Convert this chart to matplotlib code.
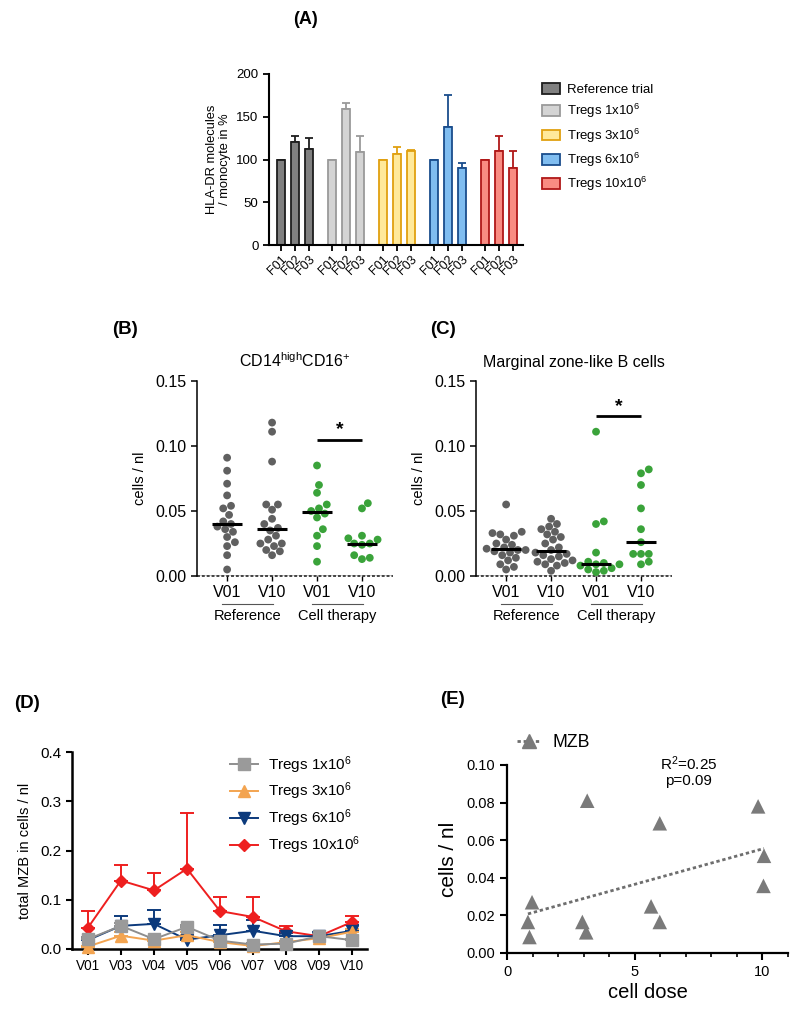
import numpy as np
import matplotlib
matplotlib.use("Agg")
import matplotlib.pyplot as plt
from matplotlib.patches import Patch
from matplotlib.lines import Line2D
import matplotlib.transforms as mtrans

plt.rcParams['font.family'] = ['Liberation Sans', 'DejaVu Sans']
plt.rcParams['mathtext.fontset'] = 'custom'
plt.rcParams['mathtext.rm'] = 'Liberation Sans'
plt.rcParams['mathtext.default'] = 'regular'

# ---------------- data ----------------
# (A) HLA-DR molecules / monocyte in %
a_groups = ["Reference trial", r"Tregs 1x10$^{6}$", r"Tregs 3x10$^{6}$",
            r"Tregs 6x10$^{6}$", r"Tregs 10x10$^{6}$"]
a_ticks = ["F01", "F02", "F03"]
a_means = [[100, 121, 112], [100, 159, 109], [100, 107, 110], [100, 138, 90], [100, 110, 90]]
a_err = [[0, 7, 13], [0, 7, 19], [0, 8, 1], [0, 37, 6], [0, 18, 20]]
a_face = ["#808080", "#d4d4d4", "#ffe99a", "#80bdf0", "#f98c82"]
a_edge = ["#1e1e1e", "#9a9a9a", "#e0a010", "#1a4d8c", "#b01818"]

# (B) CD14high CD16+ cells / nl
b_cats = ["V01", "V10", "V01", "V10"]
b_ref_v01 = [0.091, 0.081, 0.071, 0.062, 0.054, 0.052, 0.047, 0.042, 0.040, 0.038,
             0.036, 0.034, 0.030, 0.026, 0.023, 0.016, 0.005]
b_ref_v10 = [0.118, 0.111, 0.088, 0.055, 0.055, 0.051, 0.044, 0.040, 0.037, 0.035,
             0.031, 0.028, 0.025, 0.025, 0.023, 0.020, 0.019, 0.016]
b_ct_v01 = [0.085, 0.070, 0.064, 0.055, 0.052, 0.050, 0.048, 0.045, 0.036, 0.031, 0.023, 0.011]
b_ct_v10 = [0.056, 0.052, 0.031, 0.029, 0.028, 0.025, 0.025, 0.024, 0.016, 0.014, 0.013]

# (C) Marginal zone-like B cells / nl
c_ref_v01 = [0.055, 0.034, 0.033, 0.032, 0.031, 0.028, 0.025, 0.024, 0.022, 0.021,
             0.020, 0.020, 0.019, 0.018, 0.016, 0.014, 0.012, 0.009, 0.007, 0.005]
c_ref_v10 = [0.044, 0.040, 0.038, 0.036, 0.034, 0.032, 0.030, 0.028, 0.025, 0.022,
             0.020, 0.018, 0.017, 0.016, 0.015, 0.013, 0.012, 0.011, 0.010, 0.009, 0.008, 0.004]
c_ct_v01 = [0.111, 0.042, 0.040, 0.018, 0.011, 0.010, 0.009, 0.009, 0.008, 0.006, 0.005, 0.004, 0.003]
c_ct_v10 = [0.082, 0.079, 0.070, 0.052, 0.036, 0.026, 0.017, 0.017, 0.017, 0.011, 0.009]
groups_bc = ["Reference", "Cell therapy"]

# (D) total MZB in cells / nl over visits
d_visits = ["V01", "V03", "V04", "V05", "V06", "V07", "V08", "V09", "V10"]
d_t1 = [0.020, 0.047, 0.020, 0.045, 0.017, 0.009, 0.011, 0.026, 0.018]
d_t1_err = [0.004, 0.006, 0.003, 0.004, 0.004, 0.003, 0.003, 0.005, 0.003]
d_t3 = [0.005, 0.027, 0.017, 0.028, 0.014, 0.006, 0.014, 0.022, 0.035]
d_t3_err = [0.002, 0.008, 0.003, 0.006, 0.003, 0.002, 0.003, 0.005, 0.006]
d_t6 = [0.018, 0.047, 0.051, 0.019, 0.028, 0.037, 0.026, 0.026, 0.037]
d_t6_err = [0.006, 0.021, 0.028, 0.004, 0.020, 0.021, 0.007, 0.009, 0.011]
d_t10 = [0.043, 0.139, 0.119, 0.163, 0.077, 0.065, 0.036, 0.026, 0.055]
d_t10_err = [0.034, 0.031, 0.035, 0.114, 0.029, 0.040, 0.011, 0.004, 0.011]
d_labels = [r"Tregs 1x10$^{6}$", r"Tregs 3x10$^{6}$", r"Tregs 6x10$^{6}$", r"Tregs 10x10$^{6}$"]

# (E) MZB vs cell dose
e_dose = [0.82, 0.88, 0.98, 2.95, 3.10, 3.14, 5.64, 5.98, 5.98, 9.83, 10.06, 10.04]
e_mzb = [0.0165, 0.0085, 0.027, 0.0165, 0.011, 0.081, 0.0248, 0.0165, 0.069, 0.078, 0.0517, 0.0357]

# ---------------- figure ----------------
fig = plt.figure(figsize=(8.0, 10.09), dpi=100)


def fx(px):
    return px / 800.0


def fy(py):
    return 1 - py / 1009.0


def axes_px(l, t, r, b):
    return fig.add_axes([fx(l), fy(b), fx(r) - fx(l), fy(t) - fy(b)])


def style_spines(ax, lw):
    for s in ["top", "right"]:
        ax.spines[s].set_visible(False)
    for s in ["left", "bottom"]:
        ax.spines[s].set_linewidth(lw)


# ---------- (A) ----------
axA = axes_px(269, 74, 523, 245)
group_gap = 3.64
tick_pos, tick_lab = [], []
for gi in range(len(a_groups)):
    xs = [gi * group_gap + k for k in range(3)]
    axA.bar(xs, a_means[gi], width=0.6, color=a_face[gi], edgecolor=a_edge[gi],
            linewidth=1.3, zorder=2)
    axA.errorbar(xs, a_means[gi], yerr=[np.zeros(3), a_err[gi]], fmt='none',
                 ecolor=a_edge[gi], elinewidth=1.3, capsize=3, capthick=1.3, zorder=1)
    tick_pos += xs
    tick_lab += a_ticks
axA.set_xlim(-0.86, 4 * group_gap + 2 + 0.71)
axA.set_ylim(0, 200)
axA.set_yticks([0, 50, 100, 150, 200])
axA.set_xticks(tick_pos)
axA.set_xticklabels(tick_lab, rotation=45, ha='right', rotation_mode='anchor', fontsize=9)
axA.tick_params(axis='y', labelsize=9.5, width=1.3, length=4)
axA.tick_params(axis='x', width=1.3, length=4, pad=2)
axA.set_ylabel("HLA-DR molecules\n/ monocyte in %", fontsize=9.3, labelpad=4,
               linespacing=1.05)
style_spines(axA, 1.5)
handles = [Patch(facecolor=a_face[i], edgecolor=a_edge[i], linewidth=1.3, label=a_groups[i])
           for i in range(len(a_groups))]
axA.legend(handles=handles, loc='upper left', bbox_to_anchor=(1.04, 1.0), frameon=False,
           fontsize=9.5, handlelength=1.3, handleheight=0.9, labelspacing=0.45,
           handletextpad=0.6, borderaxespad=0.3)
fig.text(fx(305), fy(20), "(A)", fontsize=13, fontweight='bold', ha='center', va='center')


# ---------- (B) and (C) ----------
def swarm_offsets(ax, xc, vals, d_px):
    """Simple beeswarm: place points around xc without overlap (pixel space)."""
    vals = np.asarray(vals)
    order = np.argsort(vals)
    placed = []
    xs = np.zeros(len(vals))
    x0_px, _ = ax.transData.transform((xc, 0))
    x1_px, _ = ax.transData.transform((xc + 1, 0))
    px_per_x = x1_px - x0_px
    step = d_px * 0.25
    cands = [0.0]
    for k in range(1, 60):
        cands += [k * step, -k * step]
    for idx in order:
        ypx = ax.transData.transform((xc, vals[idx]))[1]
        for c in cands:
            ok = all((c - px) ** 2 + (ypx - py) ** 2 >= (d_px * 1.0) ** 2 for px, py in placed)
            if ok:
                placed.append((c, ypx))
                xs[idx] = xc + c / px_per_x
                break
    return xs


def dot_panel(ax, series, colors, sig_y, title, letter, letter_xy):
    ax.set_xlim(-0.67, 3.69)
    ax.set_ylim(0, 0.15)
    ax.set_yticks([0, 0.05, 0.10, 0.15])
    ax.set_yticklabels(["0.00", "0.05", "0.10", "0.15"])
    style_spines(ax, 1.1)
    ax.spines['bottom'].set_visible(False)
    ax.axhline(0, color='black', lw=1.0, zorder=1)
    ax.axhline(0, color='#444444', lw=1.4, ls=(0, (1.5, 1.0)), zorder=1, clip_on=False)
    d_px = 7.8
    for i, vals in enumerate(series):
        xs = swarm_offsets(ax, i, vals, d_px)
        ax.scatter(xs, vals, s=(d_px * 0.72) ** 2, color=colors[i], edgecolors='none',
                   zorder=3, clip_on=False)
        med = np.median(vals)
        ax.plot([i - 0.33, i + 0.33], [med, med], color='black', lw=2.2, zorder=4,
                solid_capstyle='butt')
    ax.set_xticks(range(4))
    ax.set_xticklabels(b_cats, fontsize=11.5)
    ax.tick_params(axis='x', length=3.5, width=1.0, pad=3)
    ax.tick_params(axis='y', labelsize=11.5, width=1.1, length=4)
    ax.set_ylabel("cells / nl", fontsize=10.5, labelpad=6)
    ax.set_title(title, fontsize=11.5, pad=10)
    # significance
    ax.plot([2, 3], [sig_y, sig_y], color='black', lw=2.0, solid_capstyle='butt')
    ax.text(2.5, sig_y + 0.001, "*", ha='center', va='bottom', fontsize=14, fontweight='bold')
    # group lines and labels
    trans = mtrans.blended_transform_factory(ax.transData, ax.transAxes)
    for gi, gname in enumerate(groups_bc):
        x0, x1 = 2 * gi - 0.12, 2 * gi + 1.02
        ax.plot([x0, x1], [-0.145, -0.145], color='#555555', lw=0.8, transform=trans,
                clip_on=False)
        ax.text(2 * gi + 0.45, -0.17, gname, transform=trans, ha='center', va='top',
                fontsize=10.5)
    fig.text(letter_xy[0], letter_xy[1], letter, fontsize=13.5, fontweight='bold',
             ha='left', va='center')


gray = "#606060"
green = "#3aa33a"
axB = axes_px(197, 381, 393, 576)
axC = axes_px(476, 381, 672, 576)
dot_panel(axB, [b_ref_v01, b_ref_v10, b_ct_v01, b_ct_v10], [gray, gray, green, green],
          0.105, r"CD14$^{high}$CD16$^{+}$", "(B)", (fx(112), fy(330)))
dot_panel(axC, [c_ref_v01, c_ref_v10, c_ct_v01, c_ct_v10], [gray, gray, green, green],
          0.123, "Marginal zone-like B cells", "(C)", (fx(430), fy(330)))

# ---------- (D) ----------
axD = axes_px(72, 752, 367, 949)
xv = np.arange(len(d_visits))
d_series = [(d_t1, d_t1_err, "#8e8e8e", "#9a9a9a", 's', 8),
            (d_t3, d_t3_err, "#f3a450", "#f3a450", '^', 8),
            (d_t6, d_t6_err, "#0c3a7c", "#0c3a7c", 'v', 8),
            (d_t10, d_t10_err, "#ee1f1f", "#ee1f1f", 'D', 6)]
draw_order = [3, 2, 1, 0]
for k in draw_order:
    vals, err, lc, mc, mk, ms = d_series[k]
    axD.errorbar(xv, vals, yerr=[np.zeros(len(vals)), err], fmt='none', ecolor=lc,
                 elinewidth=1.4, capsize=5, capthick=1.4, zorder=2 + (3 - k) * 0.1)
    axD.plot(xv, vals, color=lc, lw=1.4, marker=mk, ms=ms, mfc=mc, mec=mc,
             zorder=3 + (3 - k) * 0.1, clip_on=False)
axD.set_xlim(-0.48, 8.45)
axD.set_ylim(0, 0.4)
axD.set_yticks([0, 0.1, 0.2, 0.3, 0.4])
axD.set_yticklabels(["0.0", "0.1", "0.2", "0.3", "0.4"])
axD.set_xticks(xv)
axD.set_xticklabels(d_visits, fontsize=9.8)
axD.tick_params(axis='y', labelsize=11, width=1.5, length=4)
axD.tick_params(axis='x', width=1.5, length=4)
axD.set_ylabel("total MZB in cells / nl", fontsize=10.5, labelpad=6)
style_spines(axD, 1.8)
legD = [Line2D([0], [0], color=d_series[k][2], lw=1.4, marker=d_series[k][4],
               ms=d_series[k][5], mfc=d_series[k][3], mec=d_series[k][3], label=d_labels[k])
        for k in range(4)]
axD.legend(handles=legD, loc='upper left', bbox_to_anchor=(0.49, 1.06), frameon=False,
           fontsize=11, handlelength=1.8, labelspacing=0.35, handletextpad=0.7)
fig.text(fx(14), fy(703), "(D)", fontsize=13.5, fontweight='bold', ha='left', va='center')

# ---------- (E) ----------
axE = axes_px(507, 765, 788, 953)
axE.scatter(e_dose, e_mzb, marker='^', s=110, color="#7a7a7a", edgecolors='none', zorder=3)
coef = np.polyfit(e_dose, e_mzb, 1)
xl = np.array([min(e_dose), max(e_dose)])
axE.plot(xl, np.polyval(coef, xl), color="#6e6e6e", lw=2.0, ls=(0, (1.2, 1.0)), zorder=2)
axE.set_xlim(0, 11)
axE.set_ylim(0, 0.10)
axE.set_yticks([0, 0.02, 0.04, 0.06, 0.08, 0.10])
axE.set_yticklabels(["0.00", "0.02", "0.04", "0.06", "0.08", "0.10"])
axE.set_xticks([0, 5, 10])
axE.set_xticks(range(0, 12), minor=True)
axE.tick_params(axis='both', which='major', labelsize=10.5, width=1.5, length=5)
axE.tick_params(axis='x', which='minor', width=1.2, length=3)
axE.set_xlabel("cell dose", fontsize=14.5, labelpad=3)
axE.set_ylabel("cells / nl", fontsize=15, labelpad=6)
style_spines(axE, 1.6)
axE.text(7.1, 0.1005, "R$^{2}$=0.25", ha='center', va='center', fontsize=11)
axE.text(7.1, 0.0915, "p=0.09", ha='center', va='center', fontsize=11)
legE = [Line2D([0], [0], color="#6e6e6e", lw=2.0, ls=(0, (1.2, 1.0)), marker='^', ms=10,
               mfc="#7a7a7a", mec="#7a7a7a", label="MZB")]
axE.legend(handles=legE, loc='lower left', bbox_to_anchor=(-0.02, 0.99), frameon=False,
           fontsize=12.8, handlelength=1.3, handletextpad=0.7)
fig.text(fx(440), fy(700), "(E)", fontsize=13.5, fontweight='bold', ha='left', va='center')

fig.savefig("out.png", dpi=100)
